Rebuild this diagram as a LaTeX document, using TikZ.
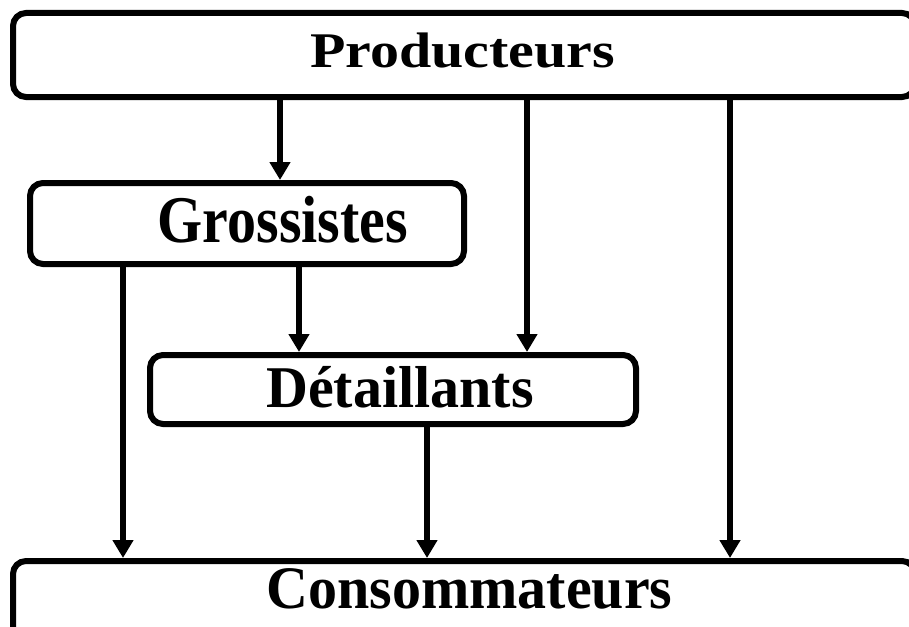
\documentclass[tikz,border=0pt]{standalone}
\usepackage{fontspec}
\setmainfont{Liberation Serif}
\usetikzlibrary{arrows.meta}
\begin{document}
\begin{tikzpicture}[x=1pt,y=-1pt,
  box/.style={draw=black, line width=6pt, rounded corners=13pt, fill=white, inner sep=0pt},
  lbl/.style={anchor=base, inner sep=0pt, font=\fontsize{58}{60}\selectfont\bfseries},
  arr/.style={line width=6pt, -{Triangle[width=20pt,length=18pt]}}]
\useasboundingbox (0,0) rectangle (909,626);
% boxes
\node[box, minimum width=902pt, minimum height=84pt] (p) at (464,55) {};
\node[box, minimum width=434pt, minimum height=81pt] (g) at (247,223.5) {};
\node[box, minimum width=486pt, minimum height=69pt] (d) at (393,389.5) {};
\node[box, minimum width=902pt, minimum height=119pt] (c) at (464,620.5) {};
% labels
\node[lbl] (pt) at (462.5,67) {\scalebox{1}[0.86]{Producteurs}};
\node[lbl] (gt) at (283,242) {\scalebox{1}[1.15]{Grossistes}};
\node[lbl] (dt) at (400,407) {\scalebox{1}[1.02]{Détaillants}};
\node[lbl] (ct) at (469.5,608) {\scalebox{1}[1.04]{Consommateurs}};
% arrow columns
\coordinate (x1) at (280,0);
\coordinate (x2) at (527,0);
\coordinate (x3) at (730,0);
\coordinate (x4) at (123,0);
\coordinate (x5) at (299,0);
\coordinate (x6) at (427,0);
% connectors
\draw[arr] (p.south -| x1) -- (g.north -| x1);
\draw[arr] (p.south -| x2) -- (d.north -| x2);
\draw[arr] (p.south -| x3) -- (c.north -| x3);
\draw[arr] (g.south -| x4) -- (c.north -| x4);
\draw[arr] (g.south -| x5) -- (d.north -| x5);
\draw[arr] (d.south -| x6) -- (c.north -| x6);
\end{tikzpicture}
\end{document}
